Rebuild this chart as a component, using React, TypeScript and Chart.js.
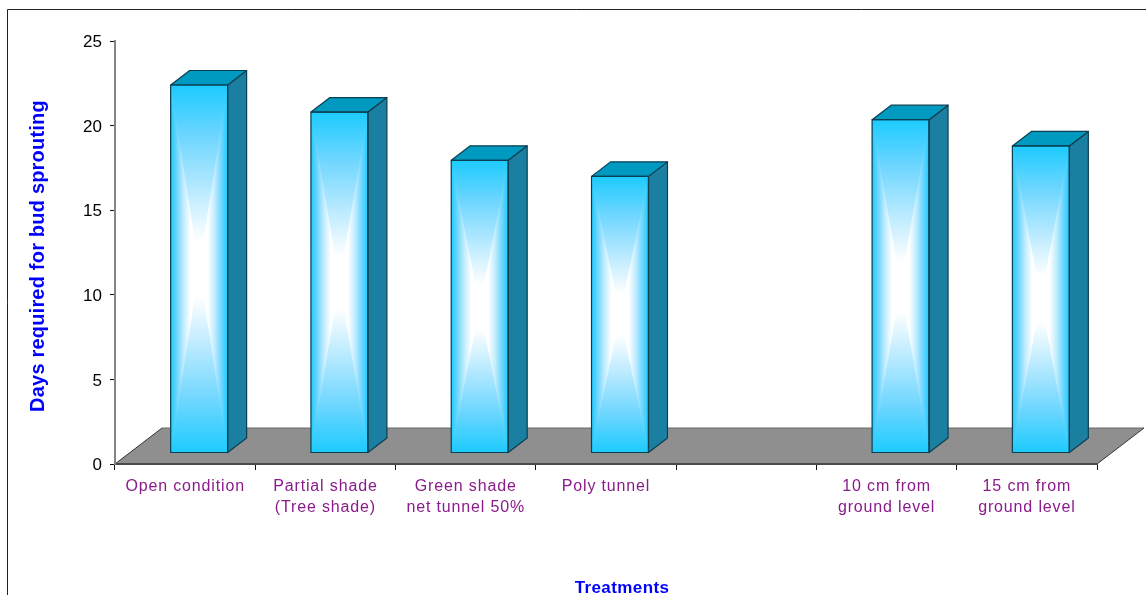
import React, { useEffect, useRef } from "react";
import { Chart, registerables } from "chart.js";

Chart.register(...registerables);

const categories: (string | string[])[] = [
  "Open condition",
  ["Partial shade", "(Tree shade)"],
  ["Green shade", "net tunnel 50%"],
  "Poly tunnel",
  "",
  ["10 cm from", "ground level"],
  ["15 cm from", "ground level"],
];
const daysToSprout: (number | null)[] = [21.75, 20.15, 17.3, 16.35, null, 19.7, 18.15];
const yTitle = "Days required for bud sprouting";
const xTitle = "Treatments";

const FONT = '"Liberation Sans", Arial, sans-serif';
const BAR_SHIFT_X = 14;
const BAR_SHIFT_Y = 11;
const SIDE_X = 19;
const SIDE_Y = 14.5;
const FLOOR_X = 47;
const FLOOR_Y = 36;

// Front-face shading, from the rim of the bar (0) to its middle (1).
const alongStops: [number, string][] = [
  [0, "#1ccbff"],
  [0.28, "#6ed6ff"],
  [0.6, "#c0ecff"],
  [0.85, "#ffffff"],
  [1, "#ffffff"],
];
const acrossStops: [number, string][] = [
  [0, "#1ccbff"],
  [0.22, "#6ed6ff"],
  [0.45, "#c0ecff"],
  [0.7, "#ffffff"],
  [1, "#ffffff"],
];

function rimToRimGradient(
  ctx: CanvasRenderingContext2D,
  stops: [number, string][],
  x0: number,
  y0: number,
  x1: number,
  y1: number,
) {
  const g = ctx.createLinearGradient(x0, y0, x1, y1);
  for (const [t, c] of stops) g.addColorStop(t / 2, c);
  for (const [t, c] of [...stops].reverse()) g.addColorStop(1 - t / 2, c);
  return g;
}

// Fills one side triangle of the front face, running from two corners to its centre.
function wedge(
  ctx: CanvasRenderingContext2D,
  ax: number,
  ay: number,
  bx: number,
  by: number,
  cx: number,
  cy: number,
  fill: CanvasGradient,
) {
  ctx.fillStyle = fill;
  ctx.beginPath();
  ctx.moveTo(ax, ay);
  ctx.lineTo(cx, cy);
  ctx.lineTo(bx, by);
  ctx.closePath();
  ctx.fill();
}

// Floor of the 3D box, the page frame, the bar faces and the two axis titles.
const scenery = {
  id: "scenery",
  beforeDraw(chart: Chart) {
    const { ctx, width, height } = chart;
    ctx.save();
    ctx.strokeStyle = "#222222";
    ctx.lineWidth = 1;
    ctx.beginPath();
    ctx.moveTo(7.5, height);
    ctx.lineTo(7.5, 9.5);
    ctx.lineTo(width, 9.5);
    ctx.stroke();
    ctx.restore();
  },
  beforeDatasetsDraw(chart: Chart) {
    const { ctx, chartArea: a } = chart;
    ctx.save();
    ctx.fillStyle = "#8f8f8f";
    ctx.beginPath();
    ctx.moveTo(a.left, a.bottom);
    ctx.lineTo(a.left + FLOOR_X, a.bottom - FLOOR_Y);
    ctx.lineTo(a.right + FLOOR_X, a.bottom - FLOOR_Y);
    ctx.lineTo(a.right, a.bottom);
    ctx.closePath();
    ctx.fill();
    ctx.lineWidth = 1;
    ctx.strokeStyle = "#6a6a6a";
    ctx.beginPath();
    ctx.moveTo(a.left + FLOOR_X, a.bottom - FLOOR_Y);
    ctx.lineTo(a.right + FLOOR_X, a.bottom - FLOOR_Y);
    ctx.stroke();
    ctx.strokeStyle = "#333333";
    ctx.beginPath();
    ctx.moveTo(a.left, a.bottom);
    ctx.lineTo(a.left + FLOOR_X, a.bottom - FLOOR_Y);
    ctx.moveTo(a.right, a.bottom);
    ctx.lineTo(a.right + FLOOR_X, a.bottom - FLOOR_Y);
    ctx.stroke();
    ctx.restore();
    // Bars stand on the middle of the floor, in front of the back wall.
    ctx.save();
    ctx.translate(BAR_SHIFT_X, -BAR_SHIFT_Y);
  },
  afterDatasetsDraw(chart: Chart) {
    const { ctx } = chart;
    const bars = chart.getDatasetMeta(0).data as any[];
    bars.forEach((bar, i) => {
      if (daysToSprout[i] == null) return;
      const { x, y, base, width } = bar.getProps(["x", "y", "base", "width"], true);
      const l = x - width / 2;
      const r = x + width / 2;
      const cy = (y + base) / 2;

      // The vertical shade covers the face; side wedges then lay the horizontal one over it.
      ctx.fillStyle = rimToRimGradient(ctx, alongStops, 0, y, 0, base);
      ctx.fillRect(l, y, width, base - y);
      const across = rimToRimGradient(ctx, acrossStops, l, 0, r, 0);
      wedge(ctx, l, y, l, base, x, cy, across);
      wedge(ctx, r, y, r, base, x, cy, across);

      ctx.lineWidth = 1.2;
      ctx.strokeStyle = "#0c3f50";
      ctx.lineJoin = "round";

      ctx.fillStyle = "#1b7fa1";
      ctx.beginPath();
      ctx.moveTo(r, y);
      ctx.lineTo(r + SIDE_X, y - SIDE_Y);
      ctx.lineTo(r + SIDE_X, base - SIDE_Y);
      ctx.lineTo(r, base);
      ctx.closePath();
      ctx.fill();
      ctx.stroke();

      ctx.fillStyle = "#0099bf";
      ctx.beginPath();
      ctx.moveTo(l, y);
      ctx.lineTo(l + SIDE_X, y - SIDE_Y);
      ctx.lineTo(r + SIDE_X, y - SIDE_Y);
      ctx.lineTo(r, y);
      ctx.closePath();
      ctx.fill();
      ctx.stroke();

      ctx.strokeRect(l, y, width, base - y);
    });
    ctx.restore();

    const anyCtx = ctx as any;
    ctx.save();
    ctx.fillStyle = "#0000ff";
    ctx.textAlign = "center";
    ctx.textBaseline = "middle";
    ctx.font = `bold 17px ${FONT}`;
    anyCtx.letterSpacing = "0.4px";
    ctx.fillText(xTitle, 622, 588);
    ctx.translate(38, 256);
    ctx.rotate(-Math.PI / 2);
    ctx.font = `bold 20px ${FONT}`;
    anyCtx.letterSpacing = "0.2px";
    ctx.fillText(yTitle, 0, 0);
    ctx.restore();
  },
};

export default function App() {
  const ref = useRef<HTMLCanvasElement>(null);

  useEffect(() => {
    const canvas = ref.current;
    if (!canvas) return;
    const chart = new Chart(canvas, {
      type: "bar",
      data: {
        labels: categories as any,
        datasets: [
          {
            data: daysToSprout,
            barPercentage: 0.406,
            categoryPercentage: 1,
            clip: false as any,
            borderWidth: 0,
            backgroundColor: "#1ccbff",
          },
        ],
      },
      options: {
        animation: false,
        responsive: false,
        devicePixelRatio: 1,
        layout: { padding: { left: 0, top: 41, right: 49, bottom: 0 } },
        plugins: { legend: { display: false }, tooltip: { enabled: false } },
        scales: {
          x: {
            grid: {
              drawOnChartArea: false,
              drawTicks: true,
              tickLength: 6,
              tickColor: "#111111",
              z: 1,
            },
            border: { display: true, color: "#4a4a4a", width: 2, z: 2 } as any,
            ticks: {
              color: "#8b1a8b",
              autoSkip: false,
              maxRotation: 0,
              minRotation: 0,
              padding: 6,
              font: { family: FONT, size: 16, lineHeight: 1.3 },
            },
            afterFit(scale: any) {
              scale.height = 131;
              if (!scale.__spaced) {
                scale.__spaced = true;
                const drawLabels = scale.drawLabels;
                scale.drawLabels = function (area: any) {
                  const ctx = this.ctx;
                  ctx.save();
                  ctx.letterSpacing = "0.85px";
                  drawLabels.call(this, area);
                  ctx.restore();
                };
              }
            },
          },
          y: {
            min: 0,
            max: 25,
            grid: { drawOnChartArea: false, tickLength: 5, tickColor: "#111111", z: 1 },
            border: { display: true, color: "#858585", width: 2, z: 2 } as any,
            ticks: {
              stepSize: 5,
              color: "#000000",
              padding: 8,
              font: { family: FONT, size: 17 },
            },
            afterFit(scale: any) {
              scale.width = 115;
              if (!scale.__nudged) {
                scale.__nudged = true;
                const drawLabels = scale.drawLabels;
                scale.drawLabels = function (area: any) {
                  const ctx = this.ctx;
                  ctx.save();
                  ctx.translate(0, 1.5);
                  drawLabels.call(this, area);
                  ctx.restore();
                };
              }
            },
          },
        },
      },
      plugins: [scenery as any],
    });
    return () => chart.destroy();
  }, []);

  return (
    <canvas
      ref={ref}
      width={1146}
      height={595}
      style={{ position: "absolute", left: 0, top: 0, display: "block" }}
    />
  );
}
